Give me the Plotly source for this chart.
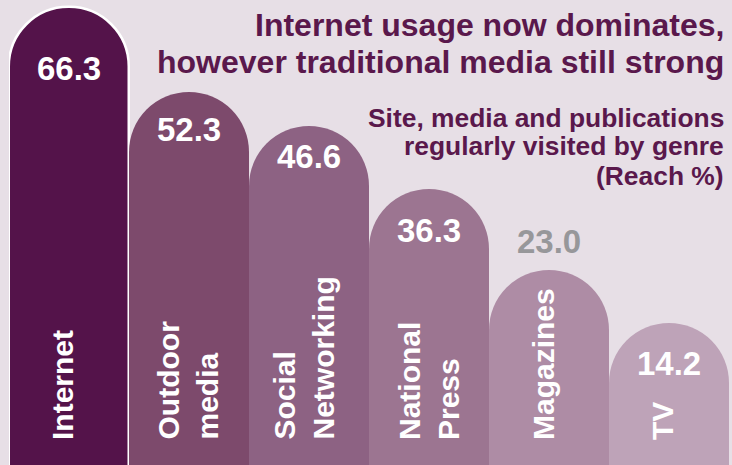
import plotly.graph_objects as go

# Reach (%) of sites, media and publications regularly visited, by genre
categories = ["Internet", "Outdoor<br>media", "Social<br>Networking",
              "National<br>Press", "Magazines", "TV"]
reach = [66.3, 52.3, 46.6, 36.3, 23.0, 14.2]
value_labels = ["66.3", "52.3", "46.6", "36.3", "23.0", "14.2"]

title_lines = ["Internet usage now dominates,",
               "however traditional media still strong"]
subtitle_lines = ["Site, media and publications",
                  "regularly visited by genre",
                  "(Reach %)"]

# styling
BG = "#e7dfe6"
PLUM = "#5a184c"
bar_colors = ["#54134a", "#7d4a6c", "#8d6283", "#9c7591", "#ae8ca5", "#bea3b8"]
outline_colors = ["#ffffff"] + bar_colors[1:]
outline_widths = [2.5, 0, 0, 0, 0, 0]
label_colors = ["#ffffff", "#ffffff", "#ffffff", "#ffffff", "#97979a", "#ffffff"]
label_offsets = [-62, -38, -30, -42, 28, -40]   # px from bar top
cat_shift = [-7, -2, -6, 0, -6, -7]            # px horizontal nudge
FONT = "Liberation Sans, Arial, sans-serif"

Y_MIN, Y_MAX = -9.2, 67.45      # axis window (the axis is cut below zero)
BAR_FLOOR = -40.0               # bars run well off the bottom edge

W, H = 732, 465
ML, MR = 9, 3

fig = go.Figure(go.Bar(
    x=categories,
    y=[v - BAR_FLOOR for v in reach],
    base=BAR_FLOOR,
    marker=dict(color=bar_colors,
                line=dict(color=outline_colors, width=outline_widths),
                cornerradius="50%"),
    width=1.0,
    hoverinfo="skip",
))

annotations = []
for cat, v, txt, col, off in zip(categories, reach, value_labels,
                                 label_colors, label_offsets):
    annotations.append(dict(
        x=cat, y=v, xref="x", yref="y", text=txt, showarrow=False,
        yshift=off, xanchor="center", yanchor="middle",
        font=dict(family=FONT, size=33, color=col, weight="bold")))

for cat, dx in zip(categories, cat_shift):
    annotations.append(dict(
        x=cat, y=(H - 442) / H, xref="x", yref="paper", text=cat,
        showarrow=False, textangle=-90, align="left", xshift=dx,
        xanchor="center", yanchor="bottom",
        font=dict(family=FONT, size=30, color="#ffffff", weight="bold")))


def px_to_paper(ypx):
    return 1 - ypx / H


x_right = (726 - ML) / (W - ML - MR)
for line, yc in zip(title_lines, [25, 62]):
    annotations.append(dict(
        x=x_right, y=px_to_paper(yc), xref="paper", yref="paper", text=line,
        showarrow=False, xanchor="right", yanchor="middle",
        font=dict(family=FONT, size=32, color=PLUM, weight="bold")))

for line, yc in zip(subtitle_lines, [118, 146, 176]):
    annotations.append(dict(
        x=x_right, y=px_to_paper(yc), xref="paper", yref="paper", text=line,
        showarrow=False, xanchor="right", yanchor="middle",
        font=dict(family=FONT, size=26.4, color=PLUM, weight="bold")))

fig.update_layout(
    width=W, height=H,
    margin=dict(l=ML, r=MR, t=0, b=0, pad=0),
    paper_bgcolor=BG, plot_bgcolor=BG,
    bargap=0, showlegend=False,
    xaxis=dict(visible=False, range=[-0.5, len(categories) - 0.5]),
    yaxis=dict(visible=False, range=[Y_MIN, Y_MAX]),
    annotations=annotations,
)

fig.write_html("out.html")
